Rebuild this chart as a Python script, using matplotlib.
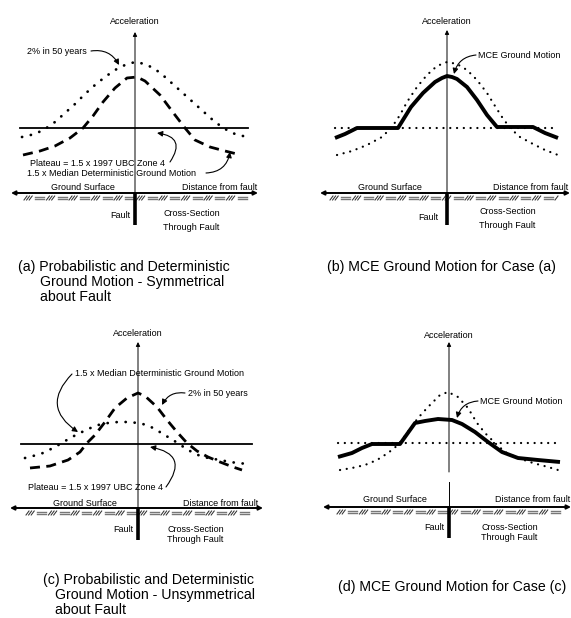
import matplotlib
matplotlib.use("Agg")
import matplotlib.pyplot as plt
import numpy as np

plt.rcParams['font.family'] = ['Liberation Sans', 'DejaVu Sans']

W, H = 571, 618
SMALL = 6.5
CAP = 10.2

# ---------------- data (distance from fault, acceleration) ----------------
# Panel (a)
a_prob_x = [-113, -100, -90, -80, -70, -60, -50, -40, -30, -20, -10, 0, 10, 20, 30, 40, 50, 60, 70, 80, 90, 100, 112]
a_prob_y = [56, 59, 64, 71, 80, 89, 99, 108, 116, 123, 128, 131, 129, 124, 116, 107, 98, 89, 80, 71, 64, 59, 56]
a_det_x = [-112, -95, -80, -65, -52, -42, -32, -20, -8, 2, 10, 25, 40, 50, 60, 75, 90, 102]
a_det_y = [38, 42, 47, 55, 65, 77, 91, 105, 115, 116, 112, 98, 78, 65, 53, 46, 42, 39]
a_plateau_x = [-115, 113]
a_plateau_y = [65, 65]

# Panel (b)
b_prob_x = [-110, -95, -80, -65, -55, -47, -40, -30, -20, -10, 0, 10, 20, 30, 40, 48, 55, 63, 73, 86, 98, 111]
b_prob_y = [38, 42, 48, 56, 66, 78, 91, 106, 118, 127, 131, 129, 123, 113, 100, 87, 76, 65, 56, 49, 43, 38]
b_plateau_x = [-112, 111]
b_plateau_y = [65, 65]
b_mce_x = [-112, -102, -90, -49, -36, -24, -12, -5, 0, 5, 10, 20, 30, 40, 50, 86, 98, 111]
b_mce_y = [55, 59, 65, 65, 86, 100, 111, 115, 117, 116, 114, 106, 93, 78, 66, 66, 60, 55]

# Panel (c)
c_det_x = [-108, -88, -70, -58, -51, -43, -33, -23, -11, 0, 7, 19, 29, 39, 49, 59, 70, 82, 95, 104]
c_det_y = [40, 42, 48, 56, 65, 73, 86, 100, 110, 115, 112, 101, 88, 76, 65, 57, 51, 46, 41, 38]
c_prob_x = [-113, -105, -95, -85, -76, -68, -58, -50, -40, -30, -20, -10, 0, 9, 17, 25, 35, 44, 52, 60, 70, 82, 92, 100, 110]
c_prob_y = [50, 52, 55, 60, 65, 70, 75, 79, 83, 85, 86, 86, 85, 83, 79, 74, 68, 62, 57, 53, 50, 48, 46, 45, 44]
c_plateau_x = [-117, 114]
c_plateau_y = [64, 64]

# Panel (d)
d_prob_x = [-109, -97, -84, -72, -61, -51, -42, -31, -21, -9, -1, 9, 19, 28, 36, 46, 56, 69, 84, 99, 109]
d_prob_y = [37, 39, 42, 47, 54, 62, 74, 89, 100, 112, 115, 110, 99, 84, 74, 64, 55, 49, 44, 40, 37]
d_plateau_x = [-111, 111]
d_plateau_y = [64, 64]
d_mce_x = [-111, -97, -87, -77, -49, -34, -24, -11, 3, 13, 26, 39, 53, 69, 89, 111]
d_mce_y = [50, 54, 59, 63, 63, 84, 86, 88, 87, 83, 75, 65, 55, 49, 47, 45]

fig = plt.figure(figsize=(W / 100, H / 100), dpi=100)
fig.patch.set_facecolor('white')


def make_panel(box, fx, gy):
    x0, y0, w, h = box
    ax = fig.add_axes([x0 / W, 1 - (y0 + h) / H, w / W, h / H])
    ax.set_xlim(x0 - fx, x0 + w - fx)
    ax.set_ylim(gy - (y0 + h), gy - y0)
    ax.axis('off')
    return ax


def dotted(ax, x, y, lw=2.0, gap=3.2):
    ax.plot(x, y, color='black', lw=lw, linestyle=(0, (0.05, gap)),
            dash_capstyle='round', solid_capstyle='round')


def dashed(ax, x, y):
    ax.plot(x, y, color='black', lw=2.0, linestyle=(0, (3.6, 2.3)), dash_capstyle='butt')


def arrow(ax, start, end, lw, ms, rad=0.0):
    ax.annotate('', xy=end, xytext=start, annotation_clip=False,
                arrowprops=dict(arrowstyle='-|>', lw=lw, color='black',
                                mutation_scale=ms, shrinkA=0, shrinkB=0,
                                connectionstyle=f'arc3,rad={rad}'))


def ground(ax, xl, xr, hs, he, fault_depth):
    arrow(ax, (0, 0), (xl, 0), 1.4, 6)
    arrow(ax, (0, 0), (xr, 0), 1.4, 6)
    # hatch pattern "///==" below surface
    period = 22.5
    x = hs
    while x < he - 4:
        for k in range(3):
            xs = x + k * 2.6
            if xs + 3 <= he:
                ax.plot([xs, xs + 3], [-7, -3], color='#333333', lw=0.75)
        xe = x + 10
        if xe + 10 <= he + 2:
            ax.plot([xe + 1, xe + 10], [-4, -4], color='#777777', lw=1.0)
            ax.plot([xe + 1, xe + 10], [-6.3, -6.3], color='#777777', lw=1.0)
        x += period
    # fault
    ax.plot([0, 0], [0, -fault_depth], color='black', lw=2.6, solid_capstyle='butt')


def vaxis(ax, top, label_y, segments=None):
    if segments is None:
        segments = [(0, top)]
    for (ya, yb) in segments[:-1]:
        ax.plot([0, 0], [ya, yb], color='black', lw=0.7)
    ya, yb = segments[-1]
    arrow(ax, (0, ya), (0, yb), 0.7, 6)
    ax.text(0, label_y, 'Acceleration', ha='center', va='center', fontsize=SMALL)


def labels_ground(ax, gs_x, gs_y, df_x, df_y, fault_x, fault_y, cs_x, cs_y, tf_y):
    ax.text(gs_x, gs_y, 'Ground Surface', ha='center', va='center', fontsize=SMALL)
    ax.text(df_x, df_y, 'Distance from fault', ha='center', va='center', fontsize=SMALL)
    ax.text(fault_x, fault_y, 'Fault', ha='right', va='center', fontsize=SMALL)
    ax.text(cs_x, cs_y, 'Cross-Section', ha='left', va='center', fontsize=SMALL)
    ax.text(cs_x, tf_y, 'Through Fault', ha='left', va='center', fontsize=SMALL)


def leader(ax, start, end, rad):
    arrow(ax, start, end, 0.8, 8, rad)


# ---------------- Panel (a) ----------------
ax = make_panel((0, 0, 285, 310), 135, 193)
vaxis(ax, 161, 172)
ax.plot(a_plateau_x, a_plateau_y, color='black', lw=1.3)
dotted(ax, a_prob_x, a_prob_y)
dashed(ax, a_det_x, a_det_y)
ground(ax, -124, 123, -111, 113, 32)
ax.text(-108, 141, '2% in 50 years', ha='left', va='center', fontsize=SMALL)
leader(ax, (-44, 142), (-16, 128), -0.35)
ax.text(-105, 30, 'Plateau = 1.5 x 1997 UBC Zone 4', ha='left', va='center', fontsize=SMALL)
ax.text(-108, 20, '1.5 x Median Deterministic Ground Motion', ha='left', va='center', fontsize=SMALL)
leader(ax, (35, 31), (22, 60), 0.8)
leader(ax, (71, 20), (95, 41), 0.4)
labels_ground(ax, -52, 5, 85, 5, -5, -23, 28, -21, -34)
ax.text(-117, -74, '(a) Probabilistic and Deterministic', ha='left', va='center', fontsize=CAP)
ax.text(-95, -89, 'Ground Motion - Symmetrical', ha='left', va='center', fontsize=CAP)
ax.text(-95, -104, 'about Fault', ha='left', va='center', fontsize=CAP)

# ---------------- Panel (b) ----------------
ax = make_panel((285, 0, 286, 310), 447, 193)
vaxis(ax, 163, 171)
dotted(ax, b_plateau_x, b_plateau_y, lw=1.6, gap=3.0)
dotted(ax, b_prob_x, b_prob_y, lw=1.6, gap=3.0)
ax.plot(b_mce_x, b_mce_y, color='black', lw=2.8, solid_joinstyle='round', solid_capstyle='butt')
ground(ax, -127, 123, -117, 113, 32)
ax.text(31, 137, 'MCE Ground Motion', ha='left', va='center', fontsize=SMALL)
leader(ax, (29, 138), (7, 119), 0.35)
labels_ground(ax, -57, 5, 84, 5, -9, -25, 32, -19, -32)
ax.text(-120, -74, '(b) MCE Ground Motion for Case (a)', ha='left', va='center', fontsize=CAP)

# ---------------- Panel (c) ----------------
ax = make_panel((0, 310, 285, 308), 138, 508)
vaxis(ax, 166, 174)
ax.plot(c_plateau_x, c_plateau_y, color='black', lw=1.3)
dotted(ax, c_prob_x, c_prob_y)
dashed(ax, c_det_x, c_det_y)
ground(ax, -128, 125, -112, 114, 32)
ax.text(-63, 134, '1.5 x Median Deterministic Ground Motion', ha='left', va='center', fontsize=SMALL)
leader(ax, (-66, 134), (-60, 76), 0.6)
ax.text(50, 114, '2% in 50 years', ha='left', va='center', fontsize=SMALL)
leader(ax, (47, 115), (24, 103), 0.35)
ax.text(-110, 21, 'Plateau = 1.5 x 1997 UBC Zone 4', ha='left', va='center', fontsize=SMALL)
leader(ax, (28, 21), (12, 61), 0.8)
labels_ground(ax, -53, 5, 83, 5, -5, -22, 29, -21, -32)
ax.text(-95, -72, '(c) Probabilistic and Deterministic', ha='left', va='center', fontsize=CAP)
ax.text(-83, -87, 'Ground Motion - Unsymmetrical', ha='left', va='center', fontsize=CAP)
ax.text(-83, -102, 'about Fault', ha='left', va='center', fontsize=CAP)

# ---------------- Panel (d) ----------------
ax = make_panel((285, 310, 286, 308), 449, 507)
vaxis(ax, 165, 172, segments=[(0, 25), (35, 165)])
dotted(ax, d_plateau_x, d_plateau_y, lw=1.6, gap=3.0)
dotted(ax, d_prob_x, d_prob_y, lw=1.6, gap=3.0)
ax.plot(d_mce_x, d_mce_y, color='black', lw=2.8, solid_joinstyle='round', solid_capstyle='butt')
ground(ax, -126, 122, -112, 113, 31)
ax.text(31, 106, 'MCE Ground Motion', ha='left', va='center', fontsize=SMALL)
leader(ax, (29, 106), (8, 89), 0.35)
labels_ground(ax, -54, 7, 84, 7, -5, -21, 32, -20, -31)
ax.text(-111, -80, '(d) MCE Ground Motion for Case (c)', ha='left', va='center', fontsize=CAP)

fig.savefig('out.png', dpi=100, facecolor='white')
